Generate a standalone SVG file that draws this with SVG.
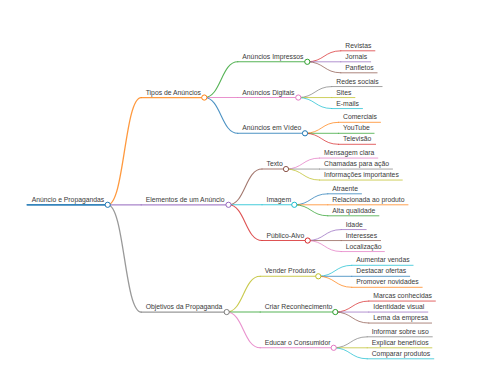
<svg xmlns="http://www.w3.org/2000/svg" width="480" height="384" viewBox="0 0 480 384">
<style>
path{fill:none;stroke-linecap:round;stroke-opacity:0.8}
text{font-family:"Liberation Sans",Arial,sans-serif;font-size:6.8px;fill:#3a3a3a;stroke:none}
circle{fill:#fff;stroke-width:1}
.w0{stroke-width:1.8;stroke-opacity:0.9}.w1{stroke-width:1.3}.w2{stroke-width:1.1}.w3{stroke-width:0.9}
.k0{stroke:#1f77b4}.k1{stroke:#ff7f0e}.k2{stroke:#2ca02c}.k3{stroke:#d62728}.k4{stroke:#9467bd}
.k5{stroke:#8c564b}.k6{stroke:#e377c2}.k7{stroke:#7f7f7f}.k8{stroke:#bcbd22}.k9{stroke:#17becf}
</style>
<rect width="480" height="384" fill="#fff"/>
<g id="connectors">
<path class="k1 w1" d="M107.7 204.8C124.45 204.8 124.45 97.55 141.2 97.55"/>
<path class="k4 w1" d="M107.7 204.8L141.2 204.8"/>
<path class="k7 w1" d="M107.7 204.8C124.45 204.8 124.45 312.05 141.2 312.05"/>
<path class="k2 w2" d="M204.3 97.55C221.05 97.55 221.05 61.8 237.8 61.8"/>
<path class="k6 w2" d="M204.3 97.55L237.8 97.55"/>
<path class="k0 w2" d="M204.3 97.55C221.05 97.55 221.05 133.3 237.8 133.3"/>
<path class="k5 w2" d="M228.5 204.8C245.25 204.8 245.25 169.05 262 169.05"/>
<path class="k9 w2" d="M228.5 204.8L262 204.8"/>
<path class="k3 w2" d="M228.5 204.8C245.25 204.8 245.25 240.55 262 240.55"/>
<path class="k8 w2" d="M226.7 312.05C243.45 312.05 243.45 276.3 260.2 276.3"/>
<path class="k2 w2" d="M226.7 312.05L260.2 312.05"/>
<path class="k6 w2" d="M226.7 312.05C243.45 312.05 243.45 347.8 260.2 347.8"/>
<path class="k3 w3" d="M307.3 61.8C324.05 61.8 324.05 50.8 340.8 50.8"/>
<path class="k4 w3" d="M307.3 61.8L340.8 61.8"/>
<path class="k5 w3" d="M307.3 61.8C324.05 61.8 324.05 72.8 340.8 72.8"/>
<path class="k7 w3" d="M298.3 97.55C315.05 97.55 315.05 86.55 331.8 86.55"/>
<path class="k8 w3" d="M298.3 97.55L331.8 97.55"/>
<path class="k9 w3" d="M298.3 97.55C315.05 97.55 315.05 108.55 331.8 108.55"/>
<path class="k1 w3" d="M305 133.3C321.75 133.3 321.75 122.3 338.5 122.3"/>
<path class="k2 w3" d="M305 133.3L338.5 133.3"/>
<path class="k3 w3" d="M305 133.3C321.75 133.3 321.75 144.3 338.5 144.3"/>
<path class="k6 w3" d="M286 169.05C302.75 169.05 302.75 158.05 319.5 158.05"/>
<path class="k7 w3" d="M286 169.05L319.5 169.05"/>
<path class="k8 w3" d="M286 169.05C302.75 169.05 302.75 180.05 319.5 180.05"/>
<path class="k0 w3" d="M294.3 204.8C311.05 204.8 311.05 193.8 327.8 193.8"/>
<path class="k1 w3" d="M294.3 204.8L327.8 204.8"/>
<path class="k2 w3" d="M294.3 204.8C311.05 204.8 311.05 215.8 327.8 215.8"/>
<path class="k4 w3" d="M307.7 240.55C324.45 240.55 324.45 229.55 341.2 229.55"/>
<path class="k5 w3" d="M307.7 240.55L341.2 240.55"/>
<path class="k6 w3" d="M307.7 240.55C324.45 240.55 324.45 251.55 341.2 251.55"/>
<path class="k9 w3" d="M318.3 276.3C335.05 276.3 335.05 265.3 351.8 265.3"/>
<path class="k0 w3" d="M318.3 276.3L351.8 276.3"/>
<path class="k1 w3" d="M318.3 276.3C335.05 276.3 335.05 287.3 351.8 287.3"/>
<path class="k3 w3" d="M335.3 312.05C352.05 312.05 352.05 301.05 368.8 301.05"/>
<path class="k4 w3" d="M335.3 312.05L368.8 312.05"/>
<path class="k5 w3" d="M335.3 312.05C352.05 312.05 352.05 323.05 368.8 323.05"/>
<path class="k7 w3" d="M333.7 347.8C350.45 347.8 350.45 336.8 367.2 336.8"/>
<path class="k8 w3" d="M333.7 347.8L367.2 347.8"/>
<path class="k9 w3" d="M333.7 347.8C350.45 347.8 350.45 358.8 367.2 358.8"/>
</g>
<g id="n-root" class="k0"><path class="w0" d="M27.3 204.8H107.7"/><circle cx="107.7" cy="204.8" r="2.6"/><text x="31.7" y="201.8">Anúncio e Propagandas</text></g>
<g id="n-tipos" class="k1"><path class="w1" d="M141.2 97.55H204.3"/><circle cx="204.3" cy="97.55" r="2.6"/><text x="145.7" y="94.55">Tipos de Anúncios</text></g>
<g id="n-elementos" class="k4"><path class="w1" d="M141.2 204.8H228.5"/><circle cx="228.5" cy="204.8" r="2.6"/><text x="145.7" y="201.8">Elementos de um Anúncio</text></g>
<g id="n-objetivos" class="k7"><path class="w1" d="M141.2 312.05H226.7"/><circle cx="226.7" cy="312.05" r="2.6"/><text x="145.7" y="309.05">Objetivos da Propaganda</text></g>
<g id="n-impressos" class="k2"><path class="w2" d="M237.8 61.8H307.3"/><circle cx="307.3" cy="61.8" r="2.6"/><text x="242.3" y="58.8">Anúncios Impressos</text></g>
<g id="n-digitais" class="k6"><path class="w2" d="M237.8 97.55H298.3"/><circle cx="298.3" cy="97.55" r="2.6"/><text x="242.3" y="94.55">Anúncios Digitais</text></g>
<g id="n-video" class="k0"><path class="w2" d="M237.8 133.3H305"/><circle cx="305" cy="133.3" r="2.6"/><text x="242.3" y="130.3">Anúncios em Vídeo</text></g>
<g id="n-texto" class="k5"><path class="w2" d="M262 169.05H286"/><circle cx="286" cy="169.05" r="2.6"/><text x="266.5" y="166.05">Texto</text></g>
<g id="n-imagem" class="k9"><path class="w2" d="M262 204.8H294.3"/><circle cx="294.3" cy="204.8" r="2.6"/><text x="266.5" y="201.8">Imagem</text></g>
<g id="n-publico" class="k3"><path class="w2" d="M262 240.55H307.7"/><circle cx="307.7" cy="240.55" r="2.6"/><text x="266.5" y="237.55">Público-Alvo</text></g>
<g id="n-vender" class="k8"><path class="w2" d="M260.2 276.3H318.3"/><circle cx="318.3" cy="276.3" r="2.6"/><text x="264.7" y="273.3">Vender Produtos</text></g>
<g id="n-criar" class="k2"><path class="w2" d="M260.2 312.05H335.3"/><circle cx="335.3" cy="312.05" r="2.6"/><text x="264.7" y="309.05">Criar Reconhecimento</text></g>
<g id="n-educar" class="k6"><path class="w2" d="M260.2 347.8H333.7"/><circle cx="333.7" cy="347.8" r="2.6"/><text x="264.7" y="344.8">Educar o Consumidor</text></g>
<g id="n-revistas" class="k3"><path class="w3" d="M340.8 50.8H374.9"/><text x="345.3" y="47.8">Revistas</text></g>
<g id="n-jornais" class="k4"><path class="w3" d="M340.8 61.8H370.7"/><text x="345.3" y="58.8">Jornais</text></g>
<g id="n-panfletos" class="k5"><path class="w3" d="M340.8 72.8H377.1"/><text x="345.3" y="69.8">Panfletos</text></g>
<g id="n-redes" class="k7"><path class="w3" d="M331.8 86.55H382.1"/><text x="336.3" y="83.55">Redes sociais</text></g>
<g id="n-sites" class="k8"><path class="w3" d="M331.8 97.55H354.9"/><text x="336.3" y="94.55">Sites</text></g>
<g id="n-emails" class="k9"><path class="w3" d="M331.8 108.55H362.5"/><text x="336.3" y="105.55">E-mails</text></g>
<g id="n-comerciais" class="k1"><path class="w3" d="M338.5 122.3H380.5"/><text x="343" y="119.3">Comerciais</text></g>
<g id="n-youtube" class="k2"><path class="w3" d="M338.5 133.3H374.1"/><text x="343" y="130.3">YouTube</text></g>
<g id="n-televisao" class="k3"><path class="w3" d="M338.5 144.3H375.6"/><text x="343" y="141.3">Televisão</text></g>
<g id="n-mensagem" class="k6"><path class="w3" d="M319.5 158.05H377.8"/><text x="324" y="155.05">Mensagem clara</text></g>
<g id="n-chamadas" class="k7"><path class="w3" d="M319.5 169.05H392.5"/><text x="324" y="166.05">Chamadas para ação</text></g>
<g id="n-informacoes" class="k8"><path class="w3" d="M319.5 180.05H402.3"/><text x="324" y="177.05">Informações importantes</text></g>
<g id="n-atraente" class="k0"><path class="w3" d="M327.8 193.8H361.5"/><text x="332.3" y="190.8">Atraente</text></g>
<g id="n-relacionada" class="k1"><path class="w3" d="M327.8 204.8H408"/><text x="332.3" y="201.8">Relacionada ao produto</text></g>
<g id="n-alta" class="k2"><path class="w3" d="M327.8 215.8H378.9"/><text x="332.3" y="212.8">Alta qualidade</text></g>
<g id="n-idade" class="k4"><path class="w3" d="M341.2 229.55H366.2"/><text x="345.7" y="226.55">Idade</text></g>
<g id="n-interesses" class="k5"><path class="w3" d="M341.2 240.55H380.6"/><text x="345.7" y="237.55">Interesses</text></g>
<g id="n-localizacao" class="k6"><path class="w3" d="M341.2 251.55H384.4"/><text x="345.7" y="248.55">Localização</text></g>
<g id="n-aumentar" class="k9"><path class="w3" d="M351.8 265.3H413.1"/><text x="356.3" y="262.3">Aumentar vendas</text></g>
<g id="n-destacar" class="k0"><path class="w3" d="M351.8 276.3H409.7"/><text x="356.3" y="273.3">Destacar ofertas</text></g>
<g id="n-promover" class="k1"><path class="w3" d="M351.8 287.3H422.2"/><text x="356.3" y="284.3">Promover novidades</text></g>
<g id="n-marcas" class="k3"><path class="w3" d="M368.8 301.05H435.4"/><text x="373.3" y="298.05">Marcas conhecidas</text></g>
<g id="n-identidade" class="k4"><path class="w3" d="M368.8 312.05H427.8"/><text x="373.3" y="309.05">Identidade visual</text></g>
<g id="n-lema" class="k5"><path class="w3" d="M368.8 323.05H431.6"/><text x="373.3" y="320.05">Lema da empresa</text></g>
<g id="n-informar" class="k7"><path class="w3" d="M367.2 336.8H432.3"/><text x="371.7" y="333.8">Informar sobre uso</text></g>
<g id="n-explicar" class="k8"><path class="w3" d="M367.2 347.8H431.9"/><text x="371.7" y="344.8">Explicar benefícios</text></g>
<g id="n-comparar" class="k9"><path class="w3" d="M367.2 358.8H433.8"/><text x="371.7" y="355.8">Comparar produtos</text></g>
</svg>
